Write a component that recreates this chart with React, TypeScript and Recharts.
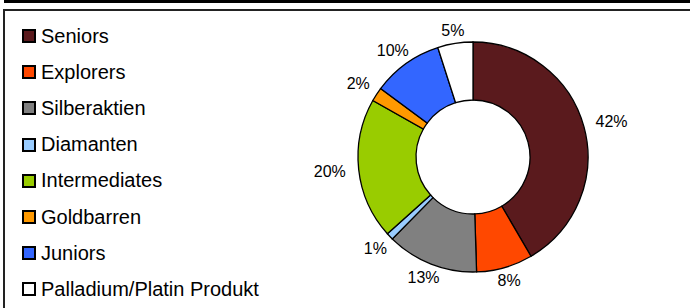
import { PieChart, Pie, Cell } from 'recharts'

const categories = [
  'Seniors',
  'Explorers',
  'Silberaktien',
  'Diamanten',
  'Intermediates',
  'Goldbarren',
  'Juniors',
  'Palladium/Platin Produkt',
]
const shares = [42, 8, 13, 1, 20, 2, 10, 5]
const colors = ['#5a1a1d', '#ff4800', '#808080', '#99ccff', '#99cc00', '#ff9900', '#3366ff', '#ffffff']

const data = categories.map((name, i) => ({ name, value: shares[i] }))

const FONT = '"Liberation Sans", Arial, sans-serif'
const RAD = Math.PI / 180

function renderLabel(props: any) {
  const { cx, cy, midAngle, outerRadius, percent } = props
  const text = `${Math.round(percent * 100)}%`
  const cos = Math.cos(-midAngle * RAD)
  const sin = Math.sin(-midAngle * RAD)
  // horizontal labels sit a bit further out, like the original
  const r = outerRadius + 6 + 10 * cos * cos
  const w = text.length * 8.8
  const h = 14
  const x = cx + r * cos + (cos * w) / 2
  const y = cy + r * sin + (sin * h) / 2
  return (
    <text
      x={x}
      y={y}
      textAnchor="middle"
      dominantBaseline="central"
      fontSize={16}
      fontFamily={FONT}
      fill="#000"
    >
      {text}
    </text>
  )
}

function LegendList() {
  return (
    <div style={{ position: 'absolute', left: 22, top: 18, fontFamily: FONT, fontSize: 20, color: '#000' }}>
      {categories.map((name, i) => (
        <div key={name} style={{ height: 36.2, display: 'flex', alignItems: 'center' }}>
          <div
            style={{
              width: 14,
              height: 14,
              boxSizing: 'border-box',
              border: '2px solid #000',
              background: colors[i],
              marginRight: 5,
            }}
          />
          <span style={{ whiteSpace: 'nowrap' }}>{name}</span>
        </div>
      ))}
    </div>
  )
}

export default function App() {
  return (
    <div style={{ position: 'absolute', left: 0, top: 0, width: 690, height: 308, background: '#fff' }}>
      <div style={{ position: 'absolute', left: 4, top: 0, width: 686, height: 2.5, background: '#000' }} />
      <div style={{ position: 'absolute', left: 3, top: 9, width: 687, height: 1.5, background: '#222' }} />
      <div style={{ position: 'absolute', left: 3, top: 9, width: 1.5, height: 299, background: '#222' }} />
      <PieChart
        width={690}
        height={308}
        margin={{ top: 0, right: 0, bottom: 0, left: 0 }}
        style={{ position: 'absolute', left: 0, top: 0 }}
      >
        <Pie
          data={data}
          dataKey="value"
          nameKey="name"
          cx={473}
          cy={157}
          innerRadius={57}
          outerRadius={115}
          startAngle={90}
          endAngle={-270}
          stroke="#000"
          strokeWidth={1.3}
          label={renderLabel}
          labelLine={false}
          isAnimationActive={false}
        >
          {data.map((d, i) => (
            <Cell key={d.name} fill={colors[i]} />
          ))}
        </Pie>
      </PieChart>
      <LegendList />
    </div>
  )
}
